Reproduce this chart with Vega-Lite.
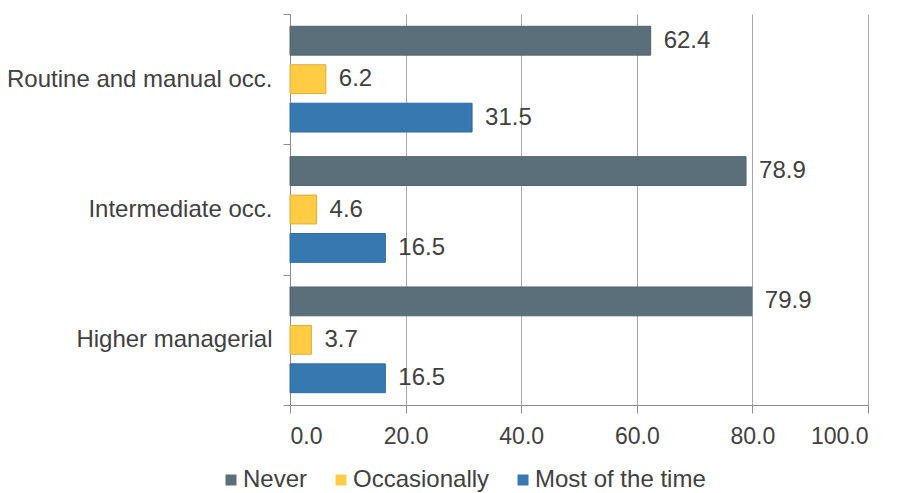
{
  "$schema": "https://vega.github.io/schema/vega-lite/v6.json",
  "autosize": "none",
  "width": 578,
  "height": 391,
  "padding": {"left": 290, "top": 14, "right": 31, "bottom": 88},
  "background": "white",
  "config": {
    "font": "Liberation Sans",
    "view": {"stroke": null}
  },
  "data": {
    "values": [
      {"group": "Routine and manual occ.", "answer": "Never", "pct": 62.4},
      {"group": "Routine and manual occ.", "answer": "Occasionally", "pct": 6.2},
      {"group": "Routine and manual occ.", "answer": "Most of the time", "pct": 31.5},
      {"group": "Intermediate occ.", "answer": "Never", "pct": 78.9},
      {"group": "Intermediate occ.", "answer": "Occasionally", "pct": 4.6},
      {"group": "Intermediate occ.", "answer": "Most of the time", "pct": 16.5},
      {"group": "Higher managerial", "answer": "Never", "pct": 79.9},
      {"group": "Higher managerial", "answer": "Occasionally", "pct": 3.7},
      {"group": "Higher managerial", "answer": "Most of the time", "pct": 16.5}
    ]
  },
  "encoding": {
    "y": {
      "field": "group",
      "type": "nominal",
      "sort": ["Routine and manual occ.", "Intermediate occ.", "Higher managerial"],
      "scale": {"paddingInner": 0, "paddingOuter": 0},
      "axis": {
        "title": null,
        "tickBand": "extent",
        "tickSize": 7,
        "tickColor": "#8c8c8c",
        "domainColor": "#8c8c8c",
        "labelFontSize": 24,
        "labelColor": "#404040",
        "labelPadding": 11,
        "labelLimit": 300
      }
    },
    "yOffset": {
      "field": "answer",
      "type": "nominal",
      "sort": ["Never", "Occasionally", "Most of the time"],
      "scale": {"paddingInner": 0.25, "paddingOuter": 0.32}
    },
    "x": {
      "field": "pct",
      "type": "quantitative",
      "scale": {"domain": [0, 100], "nice": false},
      "axis": {
        "title": null,
        "values": [0, 20, 40, 60, 80, 100],
        "format": ".1f",
        "grid": true,
        "gridColor": "#a6a6a6",
        "tickColor": "#8c8c8c",
        "domainColor": "#8c8c8c",
        "tickSize": 8,
        "labelFontSize": 23,
        "labelColor": "#404040",
        "labelPadding": 12
      }
    }
  },
  "layer": [
    {
      "mark": {"type": "bar", "strokeWidth": 1},
      "encoding": {
        "color": {
          "field": "answer",
          "type": "nominal",
          "sort": ["Never", "Occasionally", "Most of the time"],
          "scale": {
            "domain": ["Never", "Occasionally", "Most of the time"],
            "range": ["#5b6f7a", "#ffcc44", "#3778b0"]
          },
          "legend": {
            "title": null,
            "orient": "none",
            "direction": "horizontal",
            "legendX": -71,
            "legendY": 454,
            "symbolType": "square",
            "symbolSize": 121,
            "symbolStrokeWidth": 0,
            "labelFontSize": 24,
            "labelColor": "#404040",
            "labelOffset": 0,
            "labelLimit": 300,
            "columnPadding": 21
          }
        },
        "stroke": {
          "field": "answer",
          "type": "nominal",
          "scale": {
            "domain": ["Never", "Occasionally", "Most of the time"],
            "range": ["#52646e", "#d9ad3a", "#316b9e"]
          },
          "legend": null
        }
      }
    },
    {
      "mark": {"type": "text", "align": "left", "dx": 13, "fontSize": 24, "color": "#404040"},
      "encoding": {
        "text": {"field": "pct", "type": "quantitative", "format": ".1f"}
      }
    }
  ]
}
